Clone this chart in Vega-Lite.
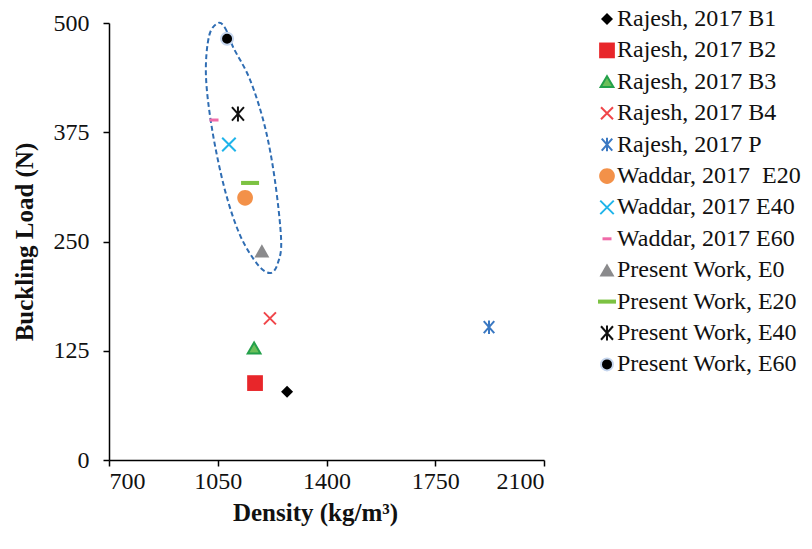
{
  "$schema": "https://vega.github.io/schema/vega-lite/v6.json",
  "width": 435,
  "height": 437,
  "autosize": {"type": "none"},
  "padding": {"left": 109, "top": 23, "right": 268, "bottom": 89},
  "background": "white",
  "config": {
    "view": {"stroke": null},
    "font": "Liberation Serif",
    "axis": {
      "grid": false,
      "domainColor": "#000000",
      "domainWidth": 1.5,
      "tickColor": "#000000",
      "tickWidth": 1.5,
      "tickSize": 6,
      "labelFont": "Liberation Serif",
      "labelFontSize": 24,
      "labelColor": "#111111",
      "titleFont": "Liberation Serif",
      "titleFontSize": 25,
      "titleFontWeight": "bold",
      "titleColor": "#111111"
    },
    "legend": {
      "orient": "none",
      "legendX": 486,
      "legendY": -16,
      "padding": 0,
      "labelFont": "Liberation Serif",
      "labelFontSize": 24,
      "labelColor": "#111111",
      "labelLimit": 400,
      "symbolSize": 225,
      "symbolStrokeWidth": 2,
      "rowPadding": 7.4,
      "labelOffset": -2
    }
  },
  "layer": [
    {
      "data": {
        "values": [
          {"order": 1, "x": 1051, "y": 500},
          {"order": 2, "x": 1074, "y": 494},
          {"order": 3, "x": 1100, "y": 472},
          {"order": 4, "x": 1154, "y": 435},
          {"order": 5, "x": 1202, "y": 381},
          {"order": 6, "x": 1234, "y": 320},
          {"order": 7, "x": 1254, "y": 252},
          {"order": 8, "x": 1244, "y": 226},
          {"order": 9, "x": 1221, "y": 214},
          {"order": 10, "x": 1180, "y": 223},
          {"order": 11, "x": 1122, "y": 257},
          {"order": 12, "x": 1073, "y": 309},
          {"order": 13, "x": 1032, "y": 378},
          {"order": 14, "x": 1012, "y": 440},
          {"order": 15, "x": 1022, "y": 485}
        ]
      },
      "mark": {"type": "line", "interpolate": "cardinal-closed", "color": "#2f6db3", "strokeWidth": 2, "strokeDash": [5, 3]},
      "encoding": {
        "x": {"field": "x", "type": "quantitative", "scale": {"domain": [700, 2100], "nice": false, "zero": false}},
        "y": {"field": "y", "type": "quantitative", "scale": {"domain": [0, 500], "nice": false}},
        "order": {"field": "order", "type": "quantitative"}
      }
    },
    {
      "data": {
        "values": [
          {"series": "Rajesh, 2017 B1", "density": 1273, "load": 78},
          {"series": "Rajesh, 2017 B2", "density": 1170, "load": 88},
          {"series": "Rajesh, 2017 B3", "density": 1167, "load": 128},
          {"series": "Rajesh, 2017 B4", "density": 1218, "load": 162},
          {"series": "Rajesh, 2017 P", "density": 1923, "load": 152},
          {"series": "Waddar, 2017 \u00a0E20", "density": 1138, "load": 300},
          {"series": "Waddar, 2017 E40", "density": 1086, "load": 361},
          {"series": "Waddar, 2017 E60", "density": 1038, "load": 389},
          {"series": "Present Work, E0", "density": 1192, "load": 239},
          {"series": "Present Work, E20", "density": 1154, "load": 317},
          {"series": "Present Work, E40", "density": 1115, "load": 396},
          {"series": "Present Work, E60", "density": 1080, "load": 482}
        ]
      },
      "mark": {"type": "point", "filled": true, "opacity": 1, "size": 225, "strokeWidth": 2},
      "encoding": {
        "x": {
          "field": "density", "type": "quantitative",
          "scale": {"domain": [700, 2100], "nice": false, "zero": false},
          "axis": {"values": [700, 1050, 1400, 1750, 2100], "format": "d", "title": "Density (kg/m³)", "labelPadding": 3, "titlePadding": 7, "titleX": 206}
        },
        "y": {
          "field": "load", "type": "quantitative",
          "scale": {"domain": [0, 500], "nice": false},
          "axis": {"values": [0, 125, 250, 375, 500], "format": "d", "title": "Buckling Load (N)", "labelPadding": 14, "titlePadding": 16}
        },
        "shape": {
          "field": "series", "type": "nominal", "title": null,
          "scale": {
            "domain": ["Rajesh, 2017 B1", "Rajesh, 2017 B2", "Rajesh, 2017 B3", "Rajesh, 2017 B4", "Rajesh, 2017 P", "Waddar, 2017 \u00a0E20", "Waddar, 2017 E40", "Waddar, 2017 E60", "Present Work, E0", "Present Work, E20", "Present Work, E40", "Present Work, E60"],
            "range": [
              "M0,-0.8L0.8,0L0,0.8L-0.8,0Z",
              "M-1.05,-1.05H1.05V1.05H-1.05Z",
              "M0,-0.75L0.85,0.7H-0.85Z",
              "M-0.8,-0.8L0.8,0.8M-0.8,0.8L0.8,-0.8",
              "M-0.7,-0.8L0.7,0.8M-0.7,0.8L0.7,-0.8M0,-0.9V0.9",
              "M-1.05,0A1.05,1.05 0 1,0 1.05,0A1.05,1.05 0 1,0 -1.05,0Z",
              "M-0.9,-0.9L0.9,0.9M-0.9,0.9L0.9,-0.9",
              "M-0.6,-0.2H0.6V0.2H-0.6Z",
              "M0,-0.9L1,0.85H-1Z",
              "M-1.2,-0.27H1.2V0.27H-1.2Z",
              "M-0.8,-0.9L0.8,0.9M-0.8,0.9L0.8,-0.9M0,-1V1",
              "M-0.8,0A0.8,0.8 0 1,0 0.8,0A0.8,0.8 0 1,0 -0.8,0Z"
            ]
          }
        },
        "fill": {
          "field": "series", "type": "nominal", "title": null,
          "scale": {
            "domain": ["Rajesh, 2017 B1", "Rajesh, 2017 B2", "Rajesh, 2017 B3", "Rajesh, 2017 B4", "Rajesh, 2017 P", "Waddar, 2017 \u00a0E20", "Waddar, 2017 E40", "Waddar, 2017 E60", "Present Work, E0", "Present Work, E20", "Present Work, E40", "Present Work, E60"],
            "range": ["#000000", "#e8262a", "#6cbf5a", "transparent", "transparent", "#f39149", "transparent", "#f06aa8", "#8a8a8c", "#7cc242", "transparent", "#000000"]
          }
        },
        "stroke": {
          "field": "series", "type": "nominal", "title": null,
          "scale": {
            "domain": ["Rajesh, 2017 B1", "Rajesh, 2017 B2", "Rajesh, 2017 B3", "Rajesh, 2017 B4", "Rajesh, 2017 P", "Waddar, 2017 \u00a0E20", "Waddar, 2017 E40", "Waddar, 2017 E60", "Present Work, E0", "Present Work, E20", "Present Work, E40", "Present Work, E60"],
            "range": ["transparent", "transparent", "#23a04a", "#f0464a", "#3a78c2", "transparent", "#1fb4ea", "transparent", "transparent", "transparent", "#111111", "#c6d6ee"]
          }
        }
      }
    }
  ]
}
